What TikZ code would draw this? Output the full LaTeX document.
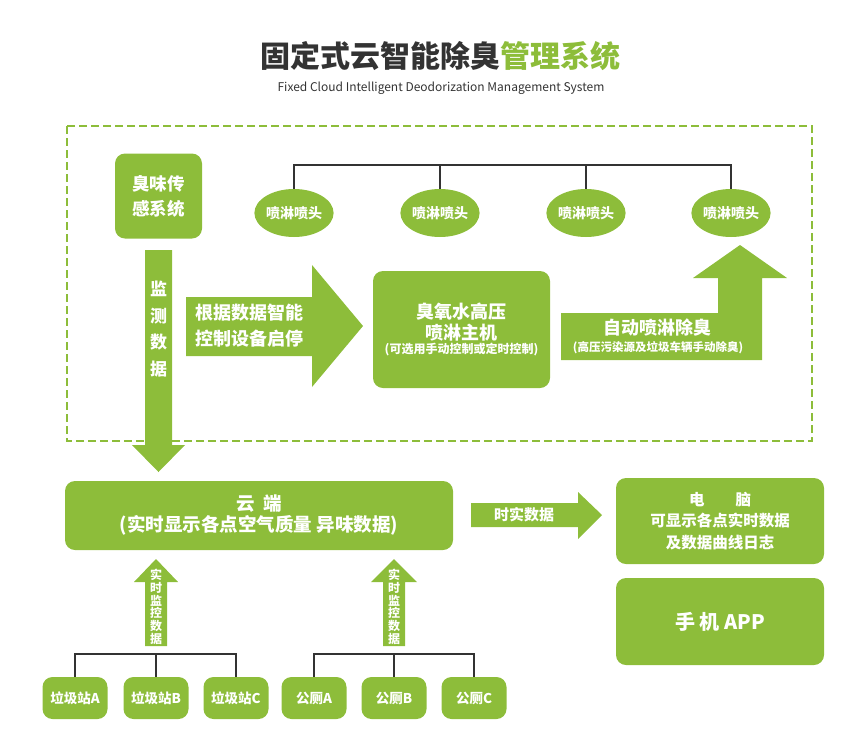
\documentclass[tikz,border=0pt]{standalone}
\usepackage{fontspec}
\setmainfont{Noto Sans CJK SC}
\usetikzlibrary{shapes.geometric}
\definecolor{leaf}{RGB}{141,189,58}
\definecolor{ink}{RGB}{51,51,51}
\newcommand{\pts}[2]{\fontsize{#1}{#2}\selectfont}

\begin{document}
\begin{tikzpicture}[x=1pt,y=-1pt,
		greenbox/.style={fill=leaf,rounded corners=10pt,text=white,font=\bfseries,align=center,inner sep=0pt},
		nozzle/.style={ellipse,fill=leaf,text=white,font=\bfseries\pts{14}{16},minimum width=74pt,minimum height=48pt,inner sep=0pt},
		station/.style={greenbox,minimum width=65pt,minimum height=42pt,font=\bfseries\pts{13.5}{16}},
		label/.style={text=white,font=\bfseries,align=center,inner sep=0pt},
		link/.style={draw=ink,line width=2pt},
		band/.style={fill=leaf}]
	\useasboundingbox (0,0) rectangle (860,753);
	% title
	\node [font=\bfseries\pts{30}{33},text=ink] (title) at (440,56) {固定式云智能除臭\textcolor{leaf}{管理系统}};
	\node [font=\pts{12}{14},text=ink] (subtitle) at (441,88) {Fixed Cloud Intelligent Deodorization Management System};
	% site frame
	\draw [leaf,line width=2pt,dash pattern=on 8pt off 4pt] (67,126) rectangle (812,441);
	\node [greenbox,minimum width=87pt,minimum height=85pt,font=\bfseries\pts{17.5}{25}] (sensor) at (158.5,196) {臭味传\\感系统};
	\node [nozzle] (noz1) at (294,213) {喷淋喷头};
	\node [nozzle] (noz2) at (440,213) {喷淋喷头};
	\node [nozzle] (noz3) at (586,213) {喷淋喷头};
	\node [nozzle] (noz4) at (731,213) {喷淋喷头};
	\draw [link] (noz1.north) -- ++(0,-24) -| (noz4.north);
	\draw [link] (noz2.north) -- ++(0,-24);
	\draw [link] (noz3.north) -- ++(0,-24);
	% monitor arrow
	\fill [band] (145,250) -- (172,250) -- (172,445) -- (185,445) -- (158.5,472) -- (132,445) -- (145,445) -- cycle;
	\node [label,font=\bfseries\pts{17}{26.5}] (monitor) at (158.5,329) {监\\测\\数\\据};
	% control arrow
	\fill [band] (186,297) -- (312,297) -- (312,265) -- (363,326) -- (312,387) -- (312,356) -- (186,356) -- cycle;
	\node [label,font=\bfseries\pts{18}{26}] (control) at (249,326) {根据数据智能\\控制设备启停};
	\node [greenbox,minimum width=177pt,minimum height=117pt] (host) at (461.5,329.5) {};
	\node [label,font=\bfseries\pts{18}{21}] (hostname) at (461.5,322) {臭氧水高压\\喷淋主机};
	\node [label,font=\bfseries\pts{12}{14}] (hostnote) at (461.5,350) {(可选用手动控制或定时控制)};
	% spray arrow
	\fill [band] (561,313) -- (718,313) -- (718,278) -- (693,278) -- (740,245) -- (787,278) -- (762,278) -- (762,360) -- (561,360) -- cycle;
	\node [label,font=\bfseries\pts{18}{21}] (spray) at (657,328) {自动喷淋除臭};
	\node [label,font=\bfseries\pts{11.5}{13}] (spraynote) at (658,348) {(高压污染源及垃圾车辆手动除臭)};
	% cloud and terminals
	\node [greenbox,minimum width=388pt,minimum height=69pt,font=\bfseries\pts{18.5}{21}] (cloud) at (259,515.5) {云\ \ 端\\(实时显示各点空气质量 异味数据)};
	\fill [band] (471,503) -- (578,503) -- (578,492) -- (602,515) -- (578,539) -- (578,527) -- (471,527) -- cycle;
	\node [label,font=\bfseries\pts{15}{18}] (realtime) at (524,515) {时实数据};
	\node [greenbox,minimum width=208pt,minimum height=86pt,font=\bfseries\pts{15.5}{21.5}] (pc) at (720,521) {电\qquad 脑\\可显示各点实时数据\\及数据曲线日志};
	\node [greenbox,minimum width=208pt,minimum height=87pt,font=\bfseries\pts{20}{24}] (app) at (720,621.5) {手\ 机 APP};
	% upload arrows
	\fill [band] (145,646) -- (167,646) -- (167,582) -- (178,582) -- (156,559) -- (134,582) -- (145,582) -- cycle;
	\node [label,font=\bfseries\pts{12}{12.7}] (upleft) at (156,607) {实\\时\\监\\控\\数\\据};
	\fill [band] (383,646) -- (405,646) -- (405,582) -- (417,582) -- (394,559) -- (371,582) -- (383,582) -- cycle;
	\node [label,font=\bfseries\pts{12}{12.7}] (upright) at (394,607) {实\\时\\监\\控\\数\\据};
	% collection points
	\node [station] (siteA) at (75,698) {垃圾站A};
	\node [station] (siteB) at (156,698) {垃圾站B};
	\node [station] (siteC) at (236,698) {垃圾站C};
	\node [station] (wcA) at (314,698) {公厕A};
	\node [station] (wcB) at (394,698) {公厕B};
	\node [station] (wcC) at (474,698) {公厕C};
	\draw [link] (siteA.north) -- ++(0,-23) -| (siteC.north);
	\draw [link] (siteB.north) -- ++(0,-23);
	\draw [link] (wcA.north) -- ++(0,-23) -| (wcC.north);
	\draw [link] (wcB.north) -- ++(0,-23);
\end{tikzpicture}
\end{document}
